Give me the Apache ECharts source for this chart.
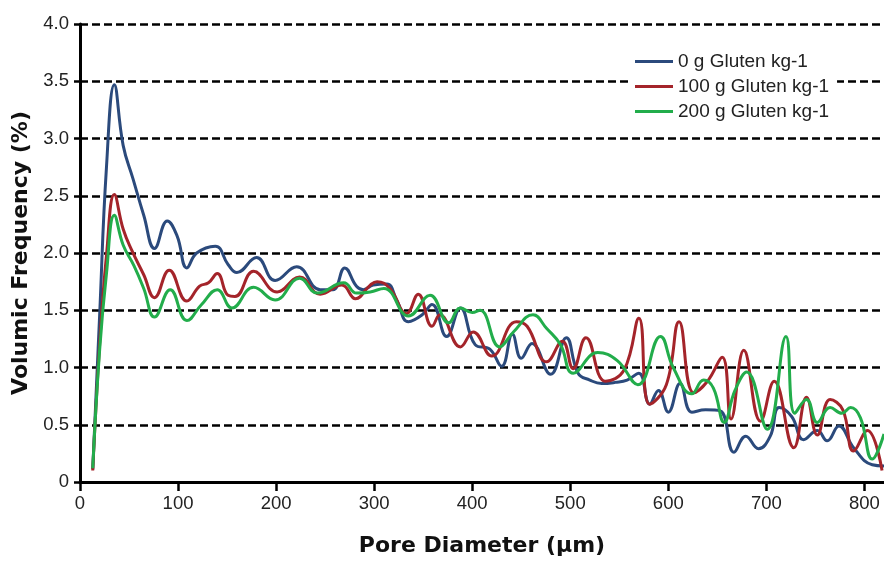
<!DOCTYPE html>
<html>
<head>
<meta charset="utf-8">
<script src="https://cdn.jsdelivr.net/npm/echarts@6/dist/echarts.min.js"></script>
<style>html,body{margin:0;padding:0;background:#fff;}#c{width:884px;height:562px;}</style>
</head>
<body>
<div id="c"></div>
<script>
// Pore diameter (µm) / volumic frequency (%) pairs
const seriesNames = ['0 g Gluten kg-1', '100 g Gluten kg-1', '200 g Gluten kg-1'];
const xTicks = [0, 100, 200, 300, 400, 500, 600, 700, 800];
const yTicks = [0, 0.5, 1, 1.5, 2, 2.5, 3, 3.5, 4];

const gluten0 = [
  [13,0.11],[20,1.45],[27,2.75],[35,3.47],[44,2.94],[54,2.65],[65,2.33],[76,2.04],[89,2.28],[99,2.15],
  [109,1.87],[119,2.00],[138,2.06],[151,1.90],[160,1.83],[180,1.96],[199,1.76],[221,1.88],[245,1.68],[258,1.68],
  [270,1.87],[282,1.71],[289,1.68],[299,1.72],[313,1.73],[323,1.59],[335,1.40],[349,1.46],[359,1.55],[374,1.27],
  [388,1.52],[403,1.20],[418,1.16],[430,1.01],[441,1.29],[450,1.08],[461,1.21],[480,0.94],[496,1.26],[508,0.95],
  [520,0.89],[532,0.86],[546,0.87],[558,0.89],[570,0.95],[581,0.68],[590,0.80],[600,0.61],[612,0.86],[624,0.61],
  [638,0.63],[653,0.62],[667,0.26],[679,0.40],[692,0.29],[704,0.40],[713,0.65],[726,0.57],[738,0.37],[752,0.45],
  [762,0.36],[774,0.49],[789,0.30],[808,0.15],[820,0.14]
];
const gluten100 = [
  [13,0.10],[20,1.20],[27,1.98],[35,2.51],[44,2.21],[53,2.02],[65,1.81],[76,1.61],[91,1.85],[109,1.58],
  [122,1.71],[131,1.74],[140,1.82],[151,1.63],[158,1.62],[177,1.84],[201,1.66],[224,1.79],[245,1.64],[267,1.72],
  [281,1.60],[296,1.72],[303,1.75],[316,1.69],[333,1.47],[345,1.64],[359,1.36],[367,1.46],[388,1.18],[401,1.31],
  [420,1.10],[445,1.40],[456,1.36],[476,1.05],[492,1.23],[503,0.99],[516,1.26],[536,0.88],[555,0.98],[570,1.43],
  [581,0.68],[598,0.85],[611,1.40],[626,0.78],[640,0.88],[655,1.09],[664,0.55],[677,1.15],[694,0.53],[708,0.88],
  [728,0.30],[741,0.74],[752,0.41],[765,0.72],[778,0.63],[789,0.27],[803,0.45],[818,0.10]
];
const gluten200 = [
  [13,0.12],[20,1.15],[27,1.82],[35,2.33],[44,2.07],[55,1.89],[65,1.69],[76,1.44],[92,1.68],[109,1.41],
  [124,1.55],[140,1.68],[155,1.52],[177,1.70],[199,1.59],[224,1.78],[242,1.65],[269,1.74],[282,1.65],[296,1.66],
  [310,1.69],[335,1.45],[357,1.63],[376,1.39],[388,1.52],[400,1.48],[408,1.50],[428,1.18],[442,1.31],[462,1.46],
  [476,1.34],[490,1.20],[503,0.95],[528,1.13],[548,1.06],[569,0.85],[592,1.27],[605,1.00],[624,0.77],[636,0.89],
  [646,0.82],[657,0.52],[668,0.80],[680,0.96],[701,0.46],[720,1.27],[729,0.60],[741,0.72],[752,0.52],[765,0.65],
  [777,0.60],[786,0.65],[796,0.56],[808,0.20],[820,0.42]
];

const colors = ['#2b4a7c', '#a4242a', '#22ad4b'];
const dataSets = [gluten0, gluten100, gluten200];

const chart = echarts.init(document.getElementById('c'), null, {renderer: 'canvas'});
chart.setOption({
  animation: false,
  backgroundColor: '#fff',
  grid: {left: 80, right: 0, top: 24, bottom: 77, containLabel: false},
  legend: {
    orient: 'vertical', left: 630, top: 48,
    backgroundColor: '#fff', padding: [4, 8, 4, 5],
    icon: 'rect', itemWidth: 38, itemHeight: 3, itemGap: 6,
    textStyle: {fontFamily: 'Liberation Sans', fontSize: 19, color: '#222', lineHeight: 17},
    data: seriesNames
  },
  xAxis: {
    type: 'value', min: 0, max: 820, interval: 100,
    name: 'Pore Diameter (µm)', nameLocation: 'middle', nameGap: 53,
    nameTextStyle: {fontFamily: 'DejaVu Sans', fontWeight: 'bold', fontSize: 22, color: '#111'},
    axisLine: {show: true, lineStyle: {color: '#000', width: 3}},
    axisTick: {show: true, length: 9, lineStyle: {color: '#000', width: 2.5}, customValues: xTicks},
    axisLabel: {margin: 12, fontFamily: 'Liberation Sans', fontSize: 18.5, color: '#222', customValues: xTicks},
    splitLine: {show: false}
  },
  yAxis: {
    type: 'value', min: 0, max: 4, interval: 0.5,
    name: 'Volumic Frequency (%)', nameLocation: 'middle', nameGap: 47,
    nameTextStyle: {fontFamily: 'DejaVu Sans', fontWeight: 'bold', fontSize: 22, color: '#111'},
    axisLine: {show: true, lineStyle: {color: '#000', width: 3}},
    axisTick: {show: true, length: 6, lineStyle: {color: '#000', width: 2.5}, customValues: yTicks},
    axisLabel: {margin: 11, fontFamily: 'Liberation Sans', fontSize: 18.5, color: '#222',
      customValues: yTicks,
      formatter: v => v === 0 ? '0' : v.toFixed(1)},
    splitLine: {show: true, lineStyle: {color: '#000', width: 2.5, type: [8, 4]}}
  },
  series: dataSets.map((d, i) => ({
    name: seriesNames[i], type: 'line', data: d, smooth: 0.45,
    showSymbol: false, symbol: 'none',
    lineStyle: {color: colors[i], width: 3},
    itemStyle: {color: colors[i]}
  }))
});
</script>
</body>
</html>
